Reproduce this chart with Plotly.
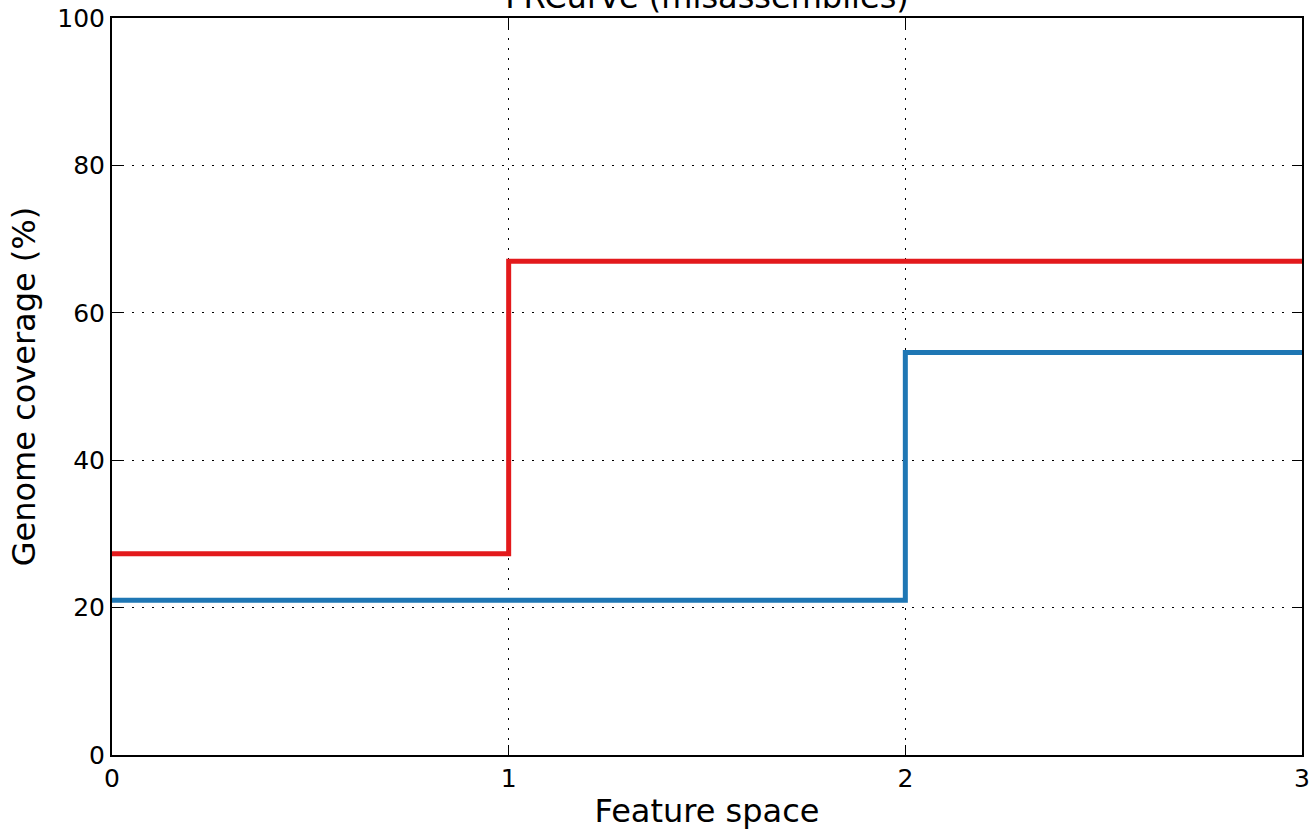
import plotly.graph_objects as go

x_points = [0, 1, 2, 3]
red_values = [27.3, 67.0, 67.0, 67.0]
blue_values = [21.0, 21.0, 54.6, 54.6]
x_ticks = [0, 1, 2, 3]
y_ticks = [0, 20, 40, 60, 80, 100]

title_text = "FRCurve (misassemblies)"
x_title = "Feature space"
y_title = "Genome coverage (%)"

FONT = "DejaVu Sans"

fig = go.Figure()
fig.add_trace(go.Scatter(x=x_points, y=blue_values, mode="lines", line_shape="hv",
                         line=dict(color="#1f77b4", width=5), showlegend=False))
fig.add_trace(go.Scatter(x=x_points, y=red_values, mode="lines", line_shape="hv",
                         line=dict(color="#e31a1c", width=5), showlegend=False))

axis_common = dict(
    showline=True, linecolor="black", linewidth=2, mirror="ticks",
    ticks="inside", ticklen=10, tickwidth=1, tickcolor="black",
    showgrid=True, gridcolor="black", gridwidth=1, griddash="1.5px,8.5px",
    zeroline=False, automargin=False,
    tickfont=dict(family=FONT, size=25, color="black"),
)

fig.update_xaxes(range=[0, 3], tickvals=x_ticks, ticktext=[str(v) for v in x_ticks],
                 title=dict(text=x_title, font=dict(family=FONT, size=32, color="black"), standoff=10),
                 **axis_common)
fig.update_yaxes(range=[0, 100], tickvals=y_ticks, ticktext=[str(v) for v in y_ticks],
                 title=dict(text=y_title, font=dict(family=FONT, size=32, color="black"), standoff=12),
                 **axis_common)

fig.update_layout(
    width=1316, height=830,
    margin=dict(l=112, r=14, t=18, b=75, pad=0, autoexpand=False),
    paper_bgcolor="white", plot_bgcolor="white",
    font=dict(family=FONT, color="black"),
    title=dict(text=title_text, x=0.5, xref="paper", y=1.0, yref="paper",
               yanchor="bottom", xanchor="center", pad=dict(b=10), automargin=False,
               font=dict(family=FONT, size=32, color="black")),
)

fig.write_html("out.html", config={"displayModeBar": False},
               post_script="document.body.style.margin='0';document.body.style.padding='0';document.body.style.overflow='hidden';")
